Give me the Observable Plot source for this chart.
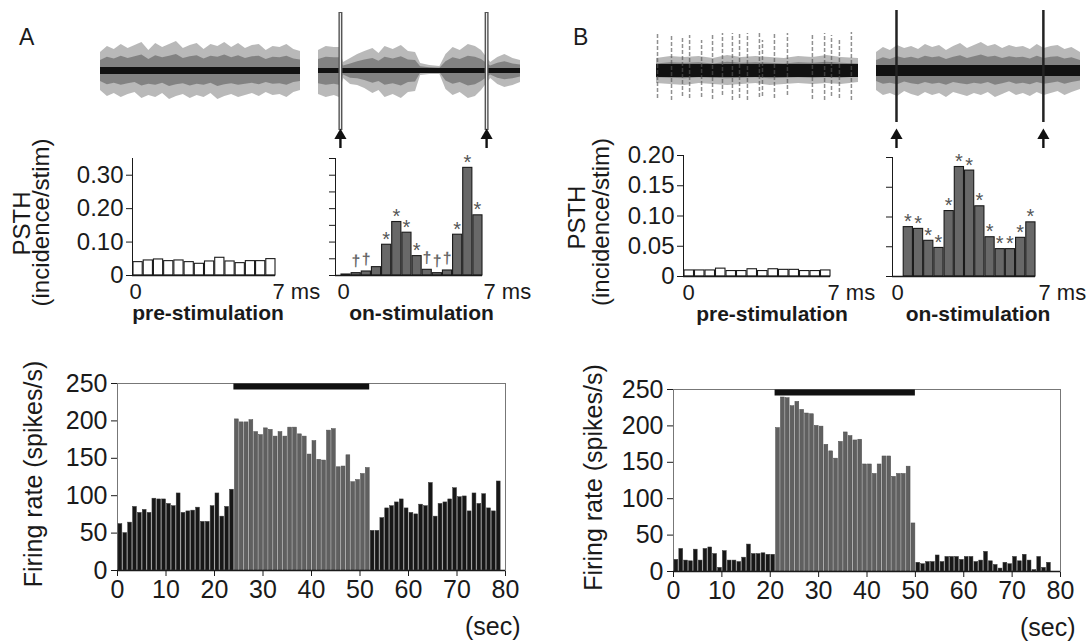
<!DOCTYPE html>
<html><head><meta charset="utf-8">
<script src="https://cdn.jsdelivr.net/npm/d3@7"></script>
<script src="https://cdn.jsdelivr.net/npm/@observablehq/plot@0.6"></script>
<style>
body{margin:0;background:#fff;}
#fig{position:relative;width:1089px;height:643px;overflow:hidden;font-family:"Liberation Sans",Arial,sans-serif;color:#1a1a1a;background:#fff;}
.lab{position:absolute;font-size:23px;line-height:1;}
</style></head><body><div id="fig"></div>
<script>
// ---------- data ----------
const psthBins = [0,0.5,1,1.5,2,2.5,3,3.5,4,4.5,5,5.5,6,6.5];
const psthA_pre = [0.040,0.045,0.048,0.043,0.045,0.040,0.035,0.042,0.053,0.042,0.037,0.043,0.043,0.049];
const psthA_on  = [0.003,0.007,0.012,0.025,0.092,0.160,0.128,0.058,0.017,0.007,0.015,0.122,0.322,0.180];
const sigA_on   = ["","†","†","","*","*","*","*","†","†","†","*","*","*"];
const psthB_pre = [0.010,0.010,0.010,0.013,0.009,0.009,0.012,0.009,0.012,0.011,0.011,0.009,0.009,0.010];
const psthB_on  = [null,0.083,0.080,0.060,0.048,0.110,0.184,0.178,0.118,0.066,0.046,0.046,0.065,0.091];
const sigB_on   = ["","*","*","*","*","*","*","*","*","*","*","*","*","*"];
const psthXTicks = [0, 7];
const psthXLabels = ["0", "7 ms"];
const psthTicksA = [0, 0.1, 0.2, 0.3];
const psthTicksA_on = [0,0.05,0.1,0.15,0.2,0.25,0.3,0.35];
const psthTicksB = [0, 0.05, 0.1, 0.15, 0.2];

// firing rate, 1-s bins
const rateA_pre  = [62,50,64,85,77,81,77,96,95,95,89,86,103,77,79,80,84,65,65,86,103,72,85,108];
const rateA_on   = [202,198,198,201,185,181,190,188,179,185,179,191,191,182,179,155,173,148,147,187,189,138,139,154,118,121,129,137];
const rateA_post = [53,53,70,83,86,91,95,83,77,75,88,86,117,72,89,91,95,110,98,99,79,103,89,102,83,79,119];
const rateB_pre  = [16,31,15,14,30,15,31,33,24,5,28,15,15,13,19,37,24,24,25,23,23];
const rateB_on   = [197,239,238,227,233,222,217,216,200,199,174,165,155,178,191,186,180,181,147,147,134,147,158,158,130,134,134,144,66];
const rateB_post = [12,10,13,13,22,13,20,20,20,16,20,20,13,15,27,14,9,4,12,10,20,14,23,15,2,20,5,12];
const stimA = [24, 52];
const stimB = [21, 50];
const rateXTicks = [0,10,20,30,40,50,60,70,80];
const rateYTicks = [0,50,100,150,200,250];

// raw trace envelopes (ms, amplitude above / below baseline)
const trA_pre_t  = [0,0.34,0.68,1.02,1.36,1.7,2.04,2.38,2.72,3.06,3.4,3.74,4.08,4.42,4.76,5.1,5.44,5.78,6.12,6.46,6.8,7.14,7.48,7.82,8.16,8.5,8.84,9.18,9.52,9.85];
const trA_pre_up = [18,24,21,26,22,25,28,20,27,23,26,29,22,25,27,21,26,24,28,23,27,22,25,26,20,24,23,26,21,19];
const trA_pre_dn = [20,26,23,27,24,22,28,25,27,23,29,26,24,28,25,27,23,29,26,24,27,25,23,26,22,25,24,27,22,20];
const trA_on_t   = [-1.08,-0.7,-0.3,-0.05,0.15,0.5,0.85,1.2,1.6,1.9,2.2,2.6,3.0,3.35,3.7,3.95,4.4,4.9,5.2,5.55,5.9,6.3,6.65,6.95,7.4,7.75,8.1,8.5,8.87];
const trA_on_up  = [20,24,23,23,8,12,16,19,22,17,24,21,25,19,18,7,5,4,16,23,20,26,24,20,8,13,16,12,10];
const trA_on_dn  = [24,27,25,27,8,14,15,18,23,20,27,24,28,22,21,5,4,4,19,25,22,28,26,20,8,14,17,15,12];
const trB_pre_t  = [0,0.7,1.4,2.1,2.8,3.5,4.2,4.9,5.6,6.3,7.0,7.7,8.4,9.1,9.95];
const trB_pre_up = [12,14,13,14,12,15,13,14,13,12,14,13,15,13,12];
const trB_pre_dn = [13,14,15,13,14,15,14,13,15,14,13,14,13,14,12];
const spB_pre_t  = [0.05,0.74,1.28,1.63,2.22,2.76,3.25,3.74,4.09,4.48,5.07,5.22,5.81,6.45,7.68,8.28,8.62,9.01,9.6];
const spB_pre_up = [37,35,33,35,30,35,37,37,38,37,37,30,37,37,37,37,35,32,38];
const spB_pre_dn = [28,30,26,28,27,29,25,30,28,30,27,26,28,25,29,30,26,28,30];
const trB_on_t   = [-0.98,-0.64,-0.3,0.05,0.4,0.74,1.08,1.42,1.77,2.11,2.45,2.8,3.14,3.48,3.82,4.16,4.5,4.85,5.2,5.54,5.88,6.22,6.56,6.9,7.24,7.58,7.92,8.26,8.6,9.02];
const trB_on_up  = [18,23,20,25,22,24,21,26,23,25,20,24,27,22,25,28,24,26,22,25,23,24,21,26,22,24,25,21,23,18];
const trB_on_dn  = [20,25,23,26,21,24,26,22,25,23,27,22,24,26,23,25,22,27,24,21,25,23,26,22,25,23,21,25,22,19];
const stimTimes = [0, 7.2];

// ---------- helpers ----------
const FONT = "'Liberation Sans', Arial, sans-serif";
const fig = document.getElementById("fig");
function place(el, left, top){ el.style.position="absolute"; el.style.left=left+"px"; el.style.top=top+"px"; fig.appendChild(el); }
const baseStyle = (fs) => ({background:"transparent", fontFamily:FONT, fontSize:fs+"px", color:"#1a1a1a", overflow:"visible"});
const fmt2 = d => d === 0 ? "0" : d3.format(".2f")(d);

function psth(o){
  const data = psthBins.map((t,i)=>({t, v:o.values[i], m:o.sig ? o.sig[i] : ""}));
  const marks = [
    Plot.rectY(data.filter(d=>d.v!=null), {x:"t", interval:0.5, y:"v", fill:o.fill, stroke:"#1a1a1a", strokeWidth:1.1}),
    Plot.ruleY([0], {stroke:"#1a1a1a", strokeWidth:1.6}),
    Plot.text([psthXTicks[0]], {x:d=>d, text:()=>psthXLabels[0], frameAnchor:"bottom", lineAnchor:"top", dy:8, dx:o.dx0, fontSize:22}),
    Plot.text([psthXTicks[1]], {x:d=>d, text:()=>psthXLabels[1], frameAnchor:"bottom", lineAnchor:"top", textAnchor:"start", dy:8, dx:o.dx7, fontSize:22}),
    Plot.text([3.5], {x:d=>d, text:()=>o.label, frameAnchor:"bottom", lineAnchor:"top", dy:30, dx:o.dxL, fontSize:21, fontWeight:"bold"})
  ];
  if (o.sig){
    marks.push(Plot.text(data.filter(d=>d.m==="*"), {x:d=>d.t+0.25, y:"v", text:d=>d.m, lineAnchor:"bottom", dy:1, fill:"#555555", fontSize:20}));
    marks.push(Plot.text(data.filter(d=>d.m==="†"), {x:d=>d.t+0.25, y:"v", text:d=>d.m, lineAnchor:"bottom", dy:-7, fill:"#666666", fontSize:16, fontWeight:"bold", rotate:1.5}));
  }
  if (o.ylab){
    marks.push(Plot.text(["PSTH"], {frameAnchor:"left", textAnchor:"middle", rotate:-90, dx:o.ylab[0], dy:o.ylab[1], fontSize:24}));
    marks.push(Plot.text(["(incidence/stim)"], {frameAnchor:"left", textAnchor:"middle", rotate:-90, dx:o.ylab[2], dy:o.ylab[3], fontSize:24}));
  }
  return Plot.plot({
    width:o.width, height:o.height, marginLeft:o.mL, marginRight:o.mR, marginTop:o.mT, marginBottom:o.mB,
    style:baseStyle(24),
    x:{domain:[0,7], insetLeft:o.inset||0, axis:null},
    y:{domain:[0,o.yMax], ticks:o.ticks, tickFormat:o.tickFormat, tickSize:6, tickPadding:3, line:true, label:null},
    marks
  });
}

function rate(o){
  const pre = o.pre.map((v,i)=>({s:i, v}));
  const on = o.on.map((v,i)=>({s:o.stim[0]+i, v}));
  const post = o.post.map((v,i)=>({s:o.stim[1]+i, v}));
  return Plot.plot({
    width:o.width, height:o.height, marginLeft:o.mL, marginRight:o.mR, marginTop:o.mT, marginBottom:o.mB,
    style:baseStyle(25),
    x:{domain:[0,80], ticks:rateXTicks, tickSize:6, tickPadding:4, line:true, label:null},
    y:{domain:[0,250], ticks:rateYTicks, tickSize:6, tickPadding:4, line:true, label:null},
    marks:[
      Plot.frame({stroke:"#777", strokeWidth:1}),
      Plot.rectY(pre.concat(post), {x:"s", interval:1, y:"v", fill:"#171717", stroke:"#3a3a3a", strokeWidth:0.5}),
      Plot.rectY(on, {x:"s", interval:1, y:"v", fill:"#606060", stroke:"#4c4c4c", strokeWidth:0.5}),
      Plot.ruleY([250], {x1:()=>o.stim[0], x2:()=>o.stim[1], stroke:"#111", strokeWidth:6, dy:3}),
      Plot.ruleY([0], {stroke:"#1a1a1a", strokeWidth:1.4}),
      Plot.text(["(sec)"], {frameAnchor:"bottom-right", lineAnchor:"top", textAnchor:"end", dx:15, dy:47, fontSize:25}),
      Plot.text(["Firing rate (spikes/s)"], {frameAnchor:"left", textAnchor:"middle", rotate:-90, dx:o.ylabDx, dy:-3, fontSize:25})
    ]
  });
}

function trace(o){
  const env = o.t.map((t,i)=>({t, up:o.up[i], dn:-o.dn[i]}));
  const marks = [
    Plot.areaY(env, {x:"t", y1:"dn", y2:"up", fill:"#8a8a8a", fillOpacity:0.6}),
    Plot.areaY(env, {x:"t", y1:d=>d.dn*0.55, y2:d=>d.up*0.55, fill:"#555", fillOpacity:0.55}),
    Plot.ruleY([0], {stroke:"#111", strokeWidth:o.core})
  ];
  if (o.spikes){
    const sp = o.spikes.t.map((t,i)=>({t, up:o.spikes.up[i], dn:-o.spikes.dn[i]}));
    marks.push(Plot.ruleX(sp, {x:"t", y1:"dn", y2:"up", stroke:"#555", strokeWidth:1.5, strokeOpacity:0.65, strokeDasharray:"4,2"}));
  }
  if (o.artifact === "double"){
    marks.push(Plot.ruleX(stimTimes, {y1:-60, y2:58, stroke:"#555", strokeWidth:4}));
    marks.push(Plot.ruleX(stimTimes, {y1:-59, y2:57, stroke:"#eee", strokeWidth:1.2}));
  } else if (o.artifact === "single"){
    marks.push(Plot.ruleX(stimTimes, {y1:-52, y2:60, stroke:"#222", strokeWidth:2.5}));
  }
  if (o.arrows){
    marks.push(Plot.ruleX(stimTimes, {y1:-78, y2:-66, stroke:"#111", strokeWidth:2.4}));
    marks.push(Plot.dot(stimTimes, {x:d=>d, y:()=>-65, symbol:"triangle", r:4.5, fill:"#111"}));
  }
  return Plot.plot({
    width:o.width, height:160, margin:0, style:baseStyle(12),
    x:{domain:o.domain, axis:null}, y:{domain:[-90,70], axis:null}, marks
  });
}

// ---------- traces ----------
place(trace({t:trA_pre_t, up:trA_pre_up, dn:trA_pre_dn, width:200, domain:[0,9.85], core:7}), 100, 0);
place(trace({t:trA_on_t, up:trA_on_up, dn:trA_on_dn, width:202, domain:[-1.08,8.87], core:5, artifact:"double", arrows:true}), 318, 0);
place(trace({t:trB_pre_t, up:trB_pre_up, dn:trB_pre_dn, spikes:{t:spB_pre_t, up:spB_pre_up, dn:spB_pre_dn}, width:202, domain:[0,9.95], core:13}), 656, 0);
place(trace({t:trB_on_t, up:trB_on_up, dn:trB_on_dn, width:204, domain:[-0.98,9.02], core:11, artifact:"single", arrows:true}), 876, 0);

// ---------- PSTHs ----------
place(psth({values:psthA_pre, fill:"#fff", yMax:0.35, ticks:psthTicksA, tickFormat:fmt2,
  width:330, height:190, mL:132, mR:55, mT:18, mB:55, dx0:3, dx7:-3, dxL:4, label:"pre-stimulation",
  ylab:[-110, 6.5, -91, 5.5]}), 0, 140);
place(psth({values:psthA_on, sig:sigA_on, fill:"#686868", yMax:0.35, ticks:psthTicksA_on, tickFormat:()=>"",
  width:230, height:230, mL:35, mR:48, mT:58, mB:55, inset:5, dx0:3, dx7:1, dxL:10, label:"on-stimulation"}), 300, 100);
place(psth({values:psthB_pre, fill:"#fff", yMax:0.2, ticks:psthTicksB, tickFormat:fmt2,
  width:320, height:190, mL:123, mR:50, mT:15, mB:54, dx0:5, dx7:-3, dxL:15, label:"pre-stimulation",
  ylab:[-106, 1.6, -82, 6]}), 560, 140);
place(psth({values:psthB_on, sig:sigB_on, fill:"#686868", yMax:0.2, ticks:psthTicksB, tickFormat:()=>"",
  width:229, height:230, mL:32, mR:54, mT:57, mB:54, dx0:5, dx7:3, dxL:14, label:"on-stimulation"}), 860, 100);

// ---------- firing rate ----------
place(rate({pre:rateA_pre, on:rateA_on, post:rateA_post, stim:stimA, width:545, height:303, mL:117, mR:40, mT:43, mB:73, ylabDx:-84}), 0, 340);
place(rate({pre:rateB_pre, on:rateB_on, post:rateB_post, stim:stimB, width:544, height:303, mL:128, mR:29, mT:49, mB:72, ylabDx:-80}), 545, 340);

// panel letters
const la = document.createElement("div"); la.className="lab"; la.textContent="A"; place(la, 19, 26);
const lb = document.createElement("div"); lb.className="lab"; lb.textContent="B"; place(lb, 573, 26);
</script>
</body></html>
